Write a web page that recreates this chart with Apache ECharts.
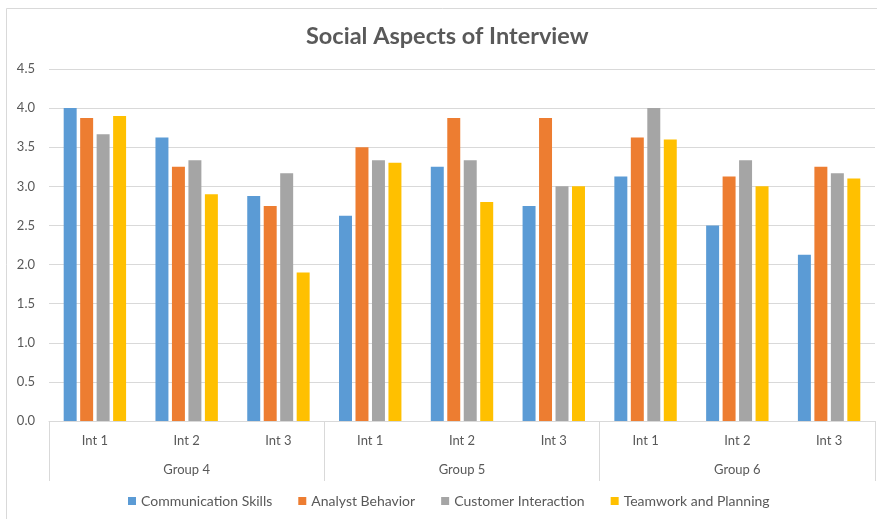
<!DOCTYPE html>
<html>
<head>
<meta charset="utf-8">
<script src="https://cdn.jsdelivr.net/npm/echarts@6/dist/echarts.min.js"></script>
<style>
  html, body { margin: 0; padding: 0; background: #fff; }
  #chart { width: 877px; height: 519px; }
</style>
</head>
<body>
<div id="chart"></div>
<script>
// Interview sessions within each group
const interviews = ['Int 1', 'Int 2', 'Int 3'];
const groups = ['Group 4', 'Group 5', 'Group 6'];
const yTicks = [0, 0.5, 1.0, 1.5, 2.0, 2.5, 3.0, 3.5, 4.0, 4.5];

const seriesNames = ['Communication Skills', 'Analyst Behavior', 'Customer Interaction', 'Teamwork and Planning'];

// Average scores per interview, ordered Group 4 (Int 1-3), Group 5 (Int 1-3), Group 6 (Int 1-3)
const communicationSkills = [4.0, 3.625, 2.875, 2.625, 3.25, 2.75, 3.125, 2.5, 2.125];
const analystBehavior     = [3.875, 3.25, 2.75, 3.5, 3.875, 3.875, 3.625, 3.125, 3.25];
const customerInteraction = [3.667, 3.333, 3.167, 3.333, 3.333, 3.0, 4.0, 3.333, 3.167];
const teamworkPlanning    = [3.9, 2.9, 1.9, 3.3, 2.8, 3.0, 3.6, 3.0, 3.1];

const seriesValues = [communicationSkills, analystBehavior, customerInteraction, teamworkPlanning];
const colors = ['#5B9BD5', '#ED7D31', '#A5A5A5', '#FFC000'];

const FONT = 'Lato, "Open Sans", sans-serif';
const TEXT = '#595959';
const LINE = '#D9D9D9';

// One category per (group, interview) pair; labels show only the interview part
const categoryKeys = [];
groups.forEach(g => interviews.forEach(i => categoryKeys.push(g + '|' + i)));

const chart = echarts.init(document.getElementById('chart'), null, { renderer: 'canvas' });

chart.setOption({
  animation: false,
  backgroundColor: '#fff',
  textStyle: { fontFamily: FONT },
  title: {
    text: 'Social Aspects of Interview',
    left: 301,
    top: 19,
    textStyle: { fontFamily: FONT, fontSize: 23.5, fontWeight: 'bold', color: TEXT }
  },
  graphic: [{
    type: 'rect',
    silent: true,
    shape: { x: 6.5, y: 8.5, width: 900, height: 600 },
    style: { fill: 'none', stroke: '#D9D9D9', lineWidth: 1 }
  }],
  legend: {
    data: seriesNames,
    left: 123,
    top: 489,
    icon: 'rect',
    itemWidth: 8,
    itemHeight: 8,
    itemGap: 26,
    textStyle: { fontFamily: FONT, fontSize: 14, color: TEXT }
  },
  grid: { left: 49, right: 2, top: 69, bottom: 98 },
  xAxis: [{
    type: 'category',
    data: categoryKeys,
    axisLine: { show: true, lineStyle: { color: LINE, width: 1 } },
    axisTick: { show: false },
    axisLabel: {
      interval: 0,
      margin: 13,
      color: TEXT,
      fontSize: 13,
      fontFamily: FONT,
      formatter: v => v.split('|')[1]
    },
    splitLine: { show: false }
  }, {
    type: 'category',
    data: groups,
    position: 'bottom',
    axisLine: { show: false },
    axisTick: { show: true, interval: 0, length: 60, lineStyle: { color: LINE, width: 1 } },
    axisLabel: { interval: 0, margin: 42, color: TEXT, fontSize: 13, fontFamily: FONT },
    splitLine: { show: false }
  }],
  yAxis: {
    type: 'value',
    min: yTicks[0],
    max: yTicks[yTicks.length - 1],
    interval: 0.5,
    axisLine: { show: false },
    axisTick: { show: false },
    axisLabel: {
      margin: 14,
      color: TEXT,
      fontSize: 13,
      fontFamily: FONT,
      formatter: v => v.toFixed(1)
    },
    splitLine: { lineStyle: { color: LINE, width: 1 } }
  },
  series: seriesNames.map((name, k) => ({
    name,
    type: 'bar',
    xAxisIndex: 0,
    data: seriesValues[k],
    barGap: '27%',
    barCategoryGap: '32%',
    itemStyle: { color: colors[k] }
  }))
});
</script>
</body>
</html>
